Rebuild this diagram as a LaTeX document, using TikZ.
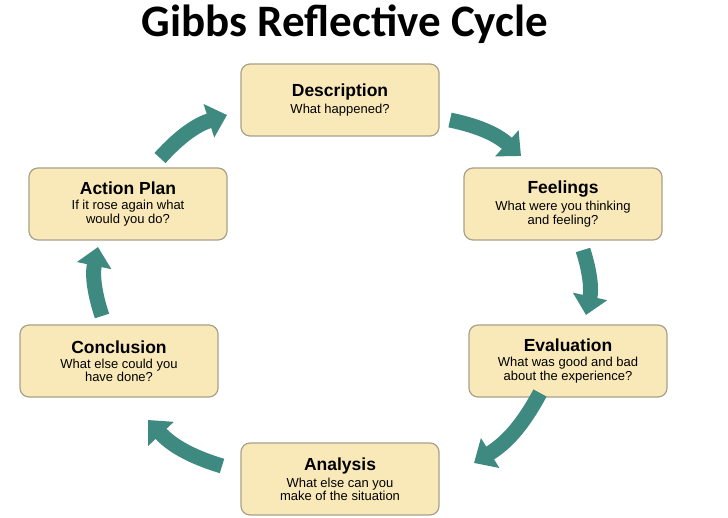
\documentclass[tikz,border=0pt]{standalone}
\usepackage{fontspec}
\setmainfont{Liberation Sans}
\newfontfamily\titlefont{Carlito}
\usetikzlibrary{arrows.meta}
\definecolor{boxfill}{HTML}{FAE9B8}
\definecolor{boxline}{HTML}{A8A08A}
\definecolor{arr}{HTML}{3E8A80}
\newcommand\hdf{\bfseries\fontsize{17.5}{20}\selectfont}
\newcommand\sbf{\mdseries\fontsize{13}{17}\selectfont}
\begin{document}
\begin{tikzpicture}[x=1pt,y=-1pt,
  box/.style={draw=boxline,line width=1.2pt,fill=boxfill,rounded corners=9pt,minimum width=198pt,minimum height=72pt,align=center,inner sep=2pt},
  cyc/.style={draw=arr,line width=15pt,-{Triangle[width=34pt,length=19pt]}},
]
\useasboundingbox (0,0) rectangle (728,518);
\node (title) at (345,24) {\titlefont\bfseries\fontsize{45}{50}\selectfont Gibbs Reflective Cycle};
\node[box] (desc) at (340,100) {\hdf Description\\[3pt]\sbf What happened?};
\node[box] (feel) at (563,204) {\hdf Feelings\\[3pt]\sbf What were you thinking\\\sbf and feeling?};
\node[box] (eval) at (568,361) {\hdf Evaluation\\[3pt]\sbf What was good and bad\\\sbf about the experience?};
\node[box] (anal) at (340,479) {\hdf Analysis\\[3pt]\sbf What else can you\\\sbf make of the situation};
\node[box] (conc) at (119,361) {\hdf Conclusion\\[3pt]\sbf What else could you\\\sbf have done?};
\node[box] (act) at (128,204) {\hdf Action Plan\\[3pt]\sbf If it rose again what\\\sbf would you do?};
\coordinate (a1s) at (160,158); \coordinate (a1e) at (227,115);
\coordinate (a2s) at (450,120); \coordinate (a2e) at (521,156);
\coordinate (a3s) at (583,250); \coordinate (a3e) at (586,315);
\coordinate (a4s) at (540,393); \coordinate (a4e) at (474,463);
\coordinate (a5s) at (222,466); \coordinate (a5e) at (148,420);
\coordinate (a6s) at (102,316); \coordinate (a6e) at (98,247);
\draw[cyc] (a1s) to[bend left=15] (a1e);
\draw[cyc] (a2s) to[bend left=15] (a2e);
\draw[cyc] (a3s) to[bend left=15] (a3e);
\draw[cyc] (a4s) to[bend left=15] (a4e);
\draw[cyc] (a5s) to[bend left=15] (a5e);
\draw[cyc] (a6s) to[bend left=15] (a6e);
\end{tikzpicture}
\end{document}
